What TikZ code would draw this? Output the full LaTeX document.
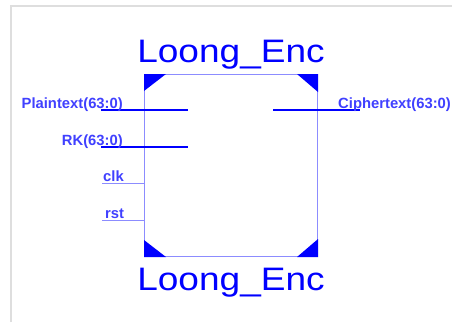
\documentclass[tikz,border=0pt]{standalone}
\usepackage{fontspec}
\setmainfont{Liberation Sans}
\begin{document}
\begin{tikzpicture}[x=1pt,y=-1pt,
  framecol/.style={draw=black!13,line width=1.5pt},
  boxline/.style={draw=blue!45,line width=1pt},
  bus/.style={draw=blue,line width=2pt},
  wire/.style={draw=blue!45,line width=1pt},
  corner/.style={fill=blue,draw=none},
  pinlbl/.style={text=blue!75!white,font=\bfseries\fontsize{14.8}{17}\selectfont,inner sep=0pt},
  title/.style={text=blue,font=\fontsize{32.5}{36}\selectfont,inner sep=0pt,xscale=1.14}]
\useasboundingbox (0,0) rectangle (452,322);
\fill[white] (0,0) rectangle (452,322);
\draw[framecol] (11,322) -- (11,6) -- (452,6);
% block
\node[boxline,minimum width=173pt,minimum height=182pt,inner sep=0pt,anchor=north west] (box) at (144,74) {};
\fill[corner] (box.north west) -- ++(22,0) -- ++(-22,17) -- cycle;
\fill[corner] (box.north east) -- ++(-21,0) -- ++(21,18) -- cycle;
\fill[corner] (box.south west) -- ++(22,0) -- ++(-22,-17) -- cycle;
\fill[corner] (box.south east) -- ++(-21,0) -- ++(21,-18) -- cycle;
% titles
\node[title,anchor=base] (ttop) at (231,62) {Loong\_Enc};
\node[title,anchor=base] (tbot) at (231,290) {Loong\_Enc};
% pins
\coordinate (p1) at (101,110); \coordinate (p2) at (188,110);
\coordinate (r1) at (101,147); \coordinate (r2) at (188,147);
\coordinate (c1) at (102,183); \coordinate (c2) at (144,183);
\coordinate (s1) at (102,220); \coordinate (s2) at (144,220);
\coordinate (o1) at (273,110); \coordinate (o2) at (360,110);
\draw[bus] (p1) -- (p2);
\draw[bus] (r1) -- (r2);
\draw[wire] (c1) -- (c2);
\draw[wire] (s1) -- (s2);
\draw[bus] (o1) -- (o2);
\node[pinlbl,anchor=base east] (lp) at (123,108) {Plaintext(63:0)};
\node[pinlbl,anchor=base east] (lr) at (123,145) {RK(63:0)};
\node[pinlbl,anchor=base west] (lc) at (103,181) {clk};
\node[pinlbl,anchor=base west] (ls) at (105,218) {rst};
\node[pinlbl,anchor=base west] (lo) at (338,108) {Ciphertext(63:0)};
\end{tikzpicture}
\end{document}
